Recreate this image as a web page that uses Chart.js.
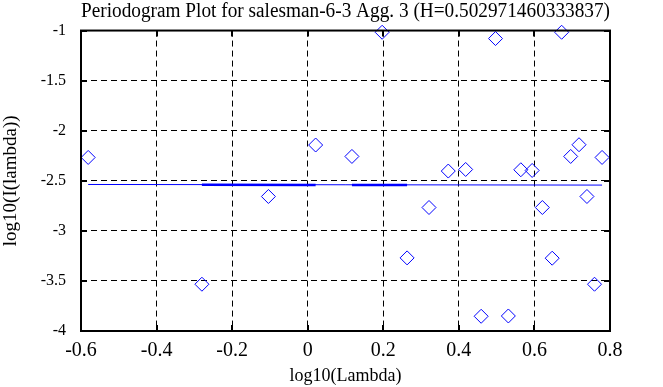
<!DOCTYPE html>
<html>
<head>
<meta charset="utf-8">
<script src="https://cdn.jsdelivr.net/npm/chart.js@4.4.1/dist/chart.umd.min.js"></script>
<style>
  html, body { margin: 0; padding: 0; background: #ffffff; }
  #wrap { width: 663px; height: 387px; }
</style>
</head>
<body>
<div id="wrap"><canvas id="c" width="663" height="387"></canvas></div>
<script>
// ---- data ----
const logLambda = [-0.581, -0.280, -0.104, 0.021, 0.117, 0.197, 0.263, 0.321, 0.372, 0.418, 0.459, 0.497,
                   0.531, 0.564, 0.594, 0.621, 0.647, 0.672, 0.696, 0.718, 0.739, 0.759, 0.779];
const logPeriodogram = [-2.267, -3.533, -2.657, -2.143, -2.257, -1.017, -3.270, -2.767, -2.403, -2.387, -3.853, -1.080,
                        -3.850, -2.390, -2.397, -2.767, -3.273, -1.017, -2.257, -2.140, -2.657, -3.533, -2.267];
// fitted line endpoints
const fitX = [-0.581, 0.779];
const fitY = [-2.537, -2.543];
// thicker overlapping fit segments
const segAX = [-0.280, 0.021];
const segAY = [-2.539, -2.541];
const segBX = [0.117, 0.263];
const segBY = [-2.541, -2.542];
// ticks
const xTicks = [-0.6, -0.4, -0.2, 0, 0.2, 0.4, 0.6, 0.8];
const xTickLabels = ['-0.6', '-0.4', '-0.2', '0', '0.2', '0.4', '0.6', '0.8'];
const yTicks = [-4, -3.5, -3, -2.5, -2, -1.5, -1];
const yTickLabels = ['-4', '-3.5', '-3', '-2.5', '-2', '-1.5', '-1'];
const titleText = 'Periodogram Plot for salesman-6-3 Agg. 3 (H=0.502971460333837)';
const xLabel = 'log10(Lambda)';
const yLabel = 'log10(I(lambda))';

const pts = (xs, ys) => xs.map((x, i) => ({ x: x, y: ys[i] }));
const FONT = 'Liberation Serif, Times New Roman, serif';

const frame = {
  id: 'frame',
  afterDatasetsDraw(chart) {
    const { ctx, chartArea: a, scales } = chart;
    ctx.save();
    ctx.strokeStyle = '#000';
    ctx.lineWidth = 2;
    ctx.setLineDash([]);
    ctx.strokeRect(a.left, a.top, a.right - a.left, a.bottom - a.top);
    const L = 6;
    ctx.beginPath();
    xTicks.forEach(v => {
      const px = Math.round(scales.x.getPixelForValue(v));
      ctx.moveTo(px, a.bottom); ctx.lineTo(px, a.bottom - L);
      ctx.moveTo(px, a.top); ctx.lineTo(px, a.top + L);
    });
    yTicks.forEach(v => {
      const py = Math.round(scales.y.getPixelForValue(v));
      ctx.moveTo(a.left, py); ctx.lineTo(a.left + L, py);
      ctx.moveTo(a.right, py); ctx.lineTo(a.right - L, py);
    });
    ctx.stroke();
    ctx.restore();
  }
};

new Chart(document.getElementById('c'), {
  type: 'scatter',
  data: {
    datasets: [
      { data: pts(fitX, fitY), showLine: true, borderColor: '#0000ff', borderWidth: 1, pointRadius: 0, order: 3 },
      { data: pts(segAX, segAY), showLine: true, borderColor: '#0000ff', borderWidth: 2.5, pointRadius: 0, order: 2 },
      { data: pts(segBX, segBY), showLine: true, borderColor: '#0000ff', borderWidth: 2.5, pointRadius: 0, order: 2 },
      { data: pts(logLambda, logPeriodogram), showLine: false, pointStyle: 'rectRot', pointRadius: 7,
        pointBorderColor: '#0000ff', pointBackgroundColor: 'rgba(0,0,0,0)', pointBorderWidth: 1, clip: false, order: 1 }
    ]
  },
  options: {
    responsive: false,
    animation: false,
    devicePixelRatio: 1,
    layout: { padding: { left: 0, right: 53, top: 0, bottom: 0 } },
    plugins: {
      legend: { display: false },
      tooltip: { enabled: false },
      title: {
        display: true, text: titleText, color: '#000', fullSize: false,
        font: { family: FONT, size: 20.5, weight: 'normal', lineHeight: 1.1 },
        padding: { top: 0, bottom: 8 }
      }
    },
    scales: {
      x: {
        type: 'linear', min: -0.6, max: 0.8,
        afterBuildTicks: s => { s.ticks = xTicks.map(v => ({ value: v })); },
        afterFit: s => { s.height = 56; },
        ticks: { color: '#000', padding: 8, maxRotation: 0, autoSkip: false,
          font: { family: FONT, size: 20 },
          callback: (v) => xTickLabels[xTicks.indexOf(v)] },
        grid: { color: '#000', lineWidth: 1, drawTicks: false },
        border: { display: false, dash: [6, 4] },
        title: { display: true, text: xLabel, color: '#000', padding: 0,
          font: { family: FONT, size: 18 } }
      },
      y: {
        type: 'linear', min: -4, max: -1,
        afterBuildTicks: s => { s.ticks = yTicks.map(v => ({ value: v })); },
        afterFit: s => { s.width = 81; },
        ticks: { color: '#000', padding: 15, autoSkip: false,
          font: { family: FONT, size: 16 },
          callback: (v) => yTickLabels[yTicks.indexOf(v)] },
        grid: { color: '#000', lineWidth: 1, drawTicks: false },
        border: { display: false, dash: [6, 4] },
        title: { display: true, text: yLabel, color: '#000', padding: 0,
          font: { family: FONT, size: 19 } }
      }
    }
  },
  plugins: [frame]
});
</script>
</body>
</html>
